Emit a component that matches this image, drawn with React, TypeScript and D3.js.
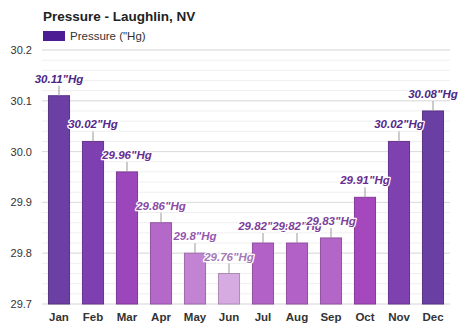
import React from "react";
import * as d3 from "d3";

const months = ["Jan", "Feb", "Mar", "Apr", "May", "Jun", "Jul", "Aug", "Sep", "Oct", "Nov", "Dec"];
const pressure = [30.11, 30.02, 29.96, 29.86, 29.8, 29.76, 29.82, 29.82, 29.83, 29.91, 30.02, 30.08];
const barColors = ["#6b3fa3", "#7e40b0", "#9b46ba", "#b469c8", "#c283d2", "#d6abe2", "#b262c6", "#b262c6", "#b366c7", "#a548be", "#7f41b0", "#6a3fa4"];
const labelColors = ["#4b2785", "#55288c", "#6a2d8f", "#8a4aa3", "#9557ab", "#a679b6", "#7c3f99", "#7c3f99", "#7c3f99", "#6a2d8f", "#55288c", "#4b2785"];
const yTicks = [29.7, 29.8, 29.9, 30.0, 30.1, 30.2];

const W = 474, H = 331;
const left = 42, right = 450, top = 50, bottom = 304;

export default function App() {
  const x = d3.scaleBand<string>().domain(months).range([left, right]).paddingInner(0.38).paddingOuter(0.19);
  const y = d3.scaleLinear().domain([29.7, 30.2]).range([bottom, top]);
  const minor = d3.range(29.7, 30.2001, 0.02).map((v) => +v.toFixed(2));
  const font = "'Liberation Sans', Arial, Helvetica, sans-serif";
  return (
    <svg width={W} height={H} style={{ position: "absolute", left: 0, top: 0, background: "#fff" }} fontFamily={font}>
      <rect width={W} height={H} fill="#fff" />
      <text x={43} y={21} fontSize={13.5} fontWeight="bold" fill="#222">Pressure - Laughlin, NV</text>
      <rect x={43} y={31} width={22} height={10} fill="#4b1c94" />
      <text x={70} y={40} fontSize={11.5} fill="#333">Pressure ("Hg)</text>
      {minor.map((v) => (
        <line key={"m" + v} x1={left} x2={right} y1={y(v)} y2={y(v)} stroke="#efefef" strokeWidth={1} />
      ))}
      {yTicks.map((v) => (
        <g key={v}>
          <line x1={left} x2={right} y1={y(v)} y2={y(v)} stroke="#dcdcdc" strokeWidth={1} />
          <text x={32} y={y(v) + 4} fontSize={11} fill="#333" textAnchor="end">{v.toFixed(1)}</text>
        </g>
      ))}
      {months.map((m, i) => {
        const bx = x(m)!;
        const bw = x.bandwidth();
        const by = y(pressure[i]);
        const cx = bx + bw / 2;
        return (
          <g key={m}>
            <rect x={bx} y={by} width={bw} height={bottom - by} fill={barColors[i]} stroke={d3.color(barColors[i])!.darker(0.6).toString()} strokeWidth={1} />
            <line x1={cx} x2={cx} y1={by} y2={by - 10} stroke="#999" strokeWidth={1} />
          </g>
        );
      })}
      {months.map((m, i) => {
        const cx = x(m)! + x.bandwidth() / 2;
        const by = y(pressure[i]);
        const label = `${pressure[i]}"Hg`;
        return (
          <text key={"l" + m} x={cx} y={by - 13} fontSize={11.5} fontWeight="bold" fontStyle="italic" textAnchor="middle"
            fill={labelColors[i]} stroke="#fff" strokeWidth={2.5} paintOrder="stroke" strokeLinejoin="round">{label}</text>
        );
      })}
      {months.map((m) => (
        <text key={"x" + m} x={x(m)! + x.bandwidth() / 2} y={321} fontSize={11.5} fontWeight="bold" fill="#333" textAnchor="middle">{m}</text>
      ))}
    </svg>
  );
}
